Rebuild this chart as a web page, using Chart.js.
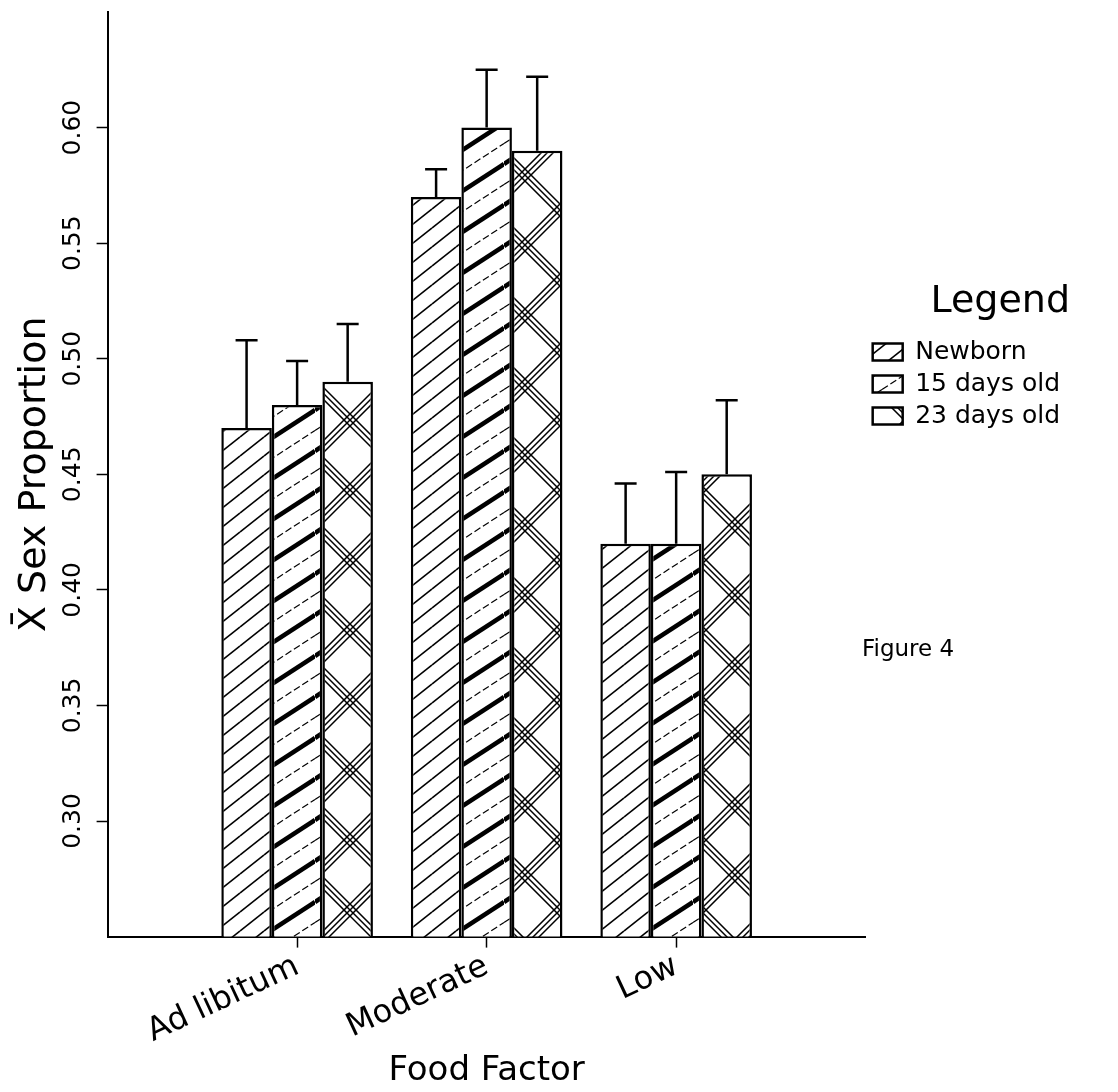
<!DOCTYPE html>
<html>
<head>
<meta charset="utf-8">
<script src="https://cdn.jsdelivr.net/npm/chart.js@4.4.1/dist/chart.umd.min.js"></script>
<style>
  html, body { margin: 0; padding: 0; background: #fff; }
  #wrap { position: relative; width: 1118px; height: 1092px; }
  #note { position: absolute; left: 862px; top: 635px; font: 23px "DejaVu Sans", sans-serif; color: #000; }
</style>
</head>
<body>
<div id="wrap">
  <canvas id="chart" width="1118" height="1092"></canvas>
  <div id="note">Figure 4</div>
</div>
<script>
// =====================
// DATA
// =====================
const categories = ['Ad libitum', 'Moderate', 'Low'];
const seriesNames = ['Newborn', '15 days old', '23 days old'];

const newborn = [0.47, 0.57, 0.42];
const days15  = [0.48, 0.60, 0.42];
const days23  = [0.49, 0.59, 0.45];

const errNewborn = [0.038, 0.012, 0.026];
const err15      = [0.019, 0.025, 0.031];
const err23      = [0.025, 0.032, 0.032];

const yTicks = [0.30, 0.35, 0.40, 0.45, 0.50, 0.55, 0.60];

// empty slot on each side so the groups sit at 1/4, 2/4, 3/4 of the axis
const pad = arr => [null, ...arr, null];

// =====================
// HATCH PATTERNS
// =====================
function hatch(w, h, draw) {
  const c = document.createElement('canvas');
  c.width = w; c.height = h;
  const g = c.getContext('2d');
  g.fillStyle = '#fff';
  g.fillRect(0, 0, w, h);
  g.strokeStyle = '#000';
  draw(g, w, h);
  return g.createPattern(c, 'repeat');
}

function line(g, x1, y1, x2, y2, lw) {
  g.lineWidth = lw;
  g.beginPath();
  g.moveTo(x1, y1);
  g.lineTo(x2, y2);
  g.stroke();
}

// thin "/" lines
const patNewborn = hatch(24, 19, (g, w, h) => {
  [-h, 0, h].forEach(d => line(g, 0, h + d, w, d, 1.6));
});

// thick "/" lines with a thin one between
const pat15 = hatch(63, 41, (g, w, h) => {
  [-h, 0, h].forEach(d => line(g, 0, h + d, w, d, 4.5));
  g.setLineDash([7, 3]);
  [-h, 0, h].forEach(d => line(g, 0, h / 2 + d, w, -h / 2 + d, 1.2));
  g.setLineDash([]);
});

// crossing triplets
const pat23 = hatch(70, 70, (g, w, h) => {
  [-h, 0, h].forEach(d => {
    [-6, 0, 6].forEach(o => {
      line(g, 0, h + d + o, w, d + o, 1.5);
      line(g, 0, d + o, w, h + d + o, 1.5);
    });
  });
});

// =====================
// PLUGINS
// =====================
const errorBars = {
  id: 'errorBars',
  afterDatasetsDraw(chart) {
    const ctx = chart.ctx;
    const y = chart.scales.y;
    ctx.save();
    ctx.strokeStyle = '#000';
    ctx.lineWidth = 2.5;
    chart.data.datasets.forEach((ds, i) => {
      chart.getDatasetMeta(i).data.forEach((bar, j) => {
        const v = ds.data[j];
        if (v == null) return;
        const top = y.getPixelForValue(v + ds.errors[j]);
        ctx.beginPath();
        ctx.moveTo(bar.x, bar.y);
        ctx.lineTo(bar.x, top);
        ctx.moveTo(bar.x - 11, top);
        ctx.lineTo(bar.x + 11, top);
        ctx.stroke();
      });
    });
    ctx.restore();
  }
};

// y tick labels read bottom-to-top like the original
const yLabels = {
  id: 'yLabels',
  afterDraw(chart) {
    const ctx = chart.ctx;
    const y = chart.scales.y;
    ctx.save();
    ctx.fillStyle = '#000';
    ctx.font = '25px "DejaVu Sans"';
    ctx.textAlign = 'center';
    ctx.textBaseline = 'middle';
    yTicks.forEach(v => {
      ctx.save();
      ctx.translate(y.right - 34, y.getPixelForValue(v));
      ctx.rotate(-Math.PI / 2);
      ctx.fillText(v.toFixed(2), 0, 0);
      ctx.restore();
    });
    ctx.restore();
  }
};

// =====================
// CHART
// =====================
Chart.defaults.font.family = '"DejaVu Sans", sans-serif';
Chart.defaults.color = '#000';

const barStyle = { borderColor: '#000', borderWidth: 2.5 };

new Chart(document.getElementById('chart'), {
  type: 'bar',
  data: {
    labels: ['', ...categories, ''],
    datasets: [
      { label: seriesNames[0], data: pad(newborn), errors: pad(errNewborn), backgroundColor: patNewborn, ...barStyle },
      { label: seriesNames[1], data: pad(days15),  errors: pad(err15),      backgroundColor: pat15,      ...barStyle },
      { label: seriesNames[2], data: pad(days23),  errors: pad(err23),      backgroundColor: pat23,      ...barStyle }
    ]
  },
  options: {
    responsive: false,
    animation: false,
    devicePixelRatio: 1,
    layout: { padding: { left: 12, top: 12, right: 48, bottom: 0 } },
    datasets: {
      bar: { categoryPercentage: 0.8, barPercentage: 1.0 }
    },
    scales: {
      x: {
        type: 'category',
        offset: false,
        grid: {
          offset: false,
          drawOnChartArea: false,
          tickLength: 11,
          tickWidth: 1.5,
          tickColor: c => (c.tick && c.tick.label) ? '#000' : 'rgba(0,0,0,0)'
        },
        border: { color: '#000', width: 2 },
        ticks: { font: { size: 32 }, color: '#000', minRotation: 25, maxRotation: 25, padding: 0, autoSkip: false },
        title: { display: true, text: 'Food Factor', font: { size: 34 }, color: '#000', padding: { top: 0, bottom: 0 } }
      },
      y: {
        min: 0.25,
        max: 0.65,
        afterBuildTicks: s => { s.ticks = yTicks.map(v => ({ value: v })); },
        grid: { drawOnChartArea: false, tickLength: 11, tickWidth: 1.5, tickColor: '#000' },
        border: { color: '#000', width: 2 },
        ticks: { display: false },
        title: { display: true, text: 'X\u0304 Sex Proportion', font: { size: 38 }, color: '#000', padding: { top: 0, bottom: 39 } }
      }
    },
    plugins: {
      tooltip: { enabled: false },
      legend: {
        position: 'right',
        align: 'start',
        title: {
          display: true,
          text: 'Legend',
          position: 'end',
          font: { size: 38 },
          color: '#000',
          padding: { top: 271, bottom: 4 }
        },
        labels: { boxWidth: 30, boxHeight: 17, padding: 7, font: { size: 25 }, color: '#000' }
      }
    }
  },
  plugins: [errorBars, yLabels]
});
</script>
</body>
</html>
